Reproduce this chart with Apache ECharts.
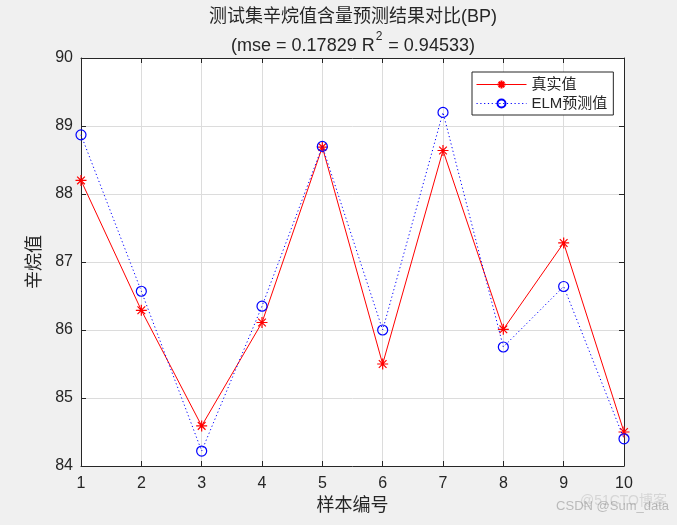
<!DOCTYPE html>
<html>
<head>
<meta charset="utf-8">
<script src="https://cdn.jsdelivr.net/npm/echarts@6/dist/echarts.min.js"></script>
<style>
html,body{margin:0;padding:0;background:#f0f0f0;}
#c{width:677px;height:525px;}
</style>
</head>
<body>
<div id="c"></div>
<script>
const samples = [1,2,3,4,5,6,7,8,9,10];
const trueValues = [88.20, 86.29, 84.59, 86.11, 88.69, 85.50, 88.64, 86.01, 87.28, 84.50];
const predValues = [88.87, 86.57, 84.22, 86.35, 88.70, 86.00, 89.20, 85.75, 86.64, 84.40];
const yTicks = [84, 85, 86, 87, 88, 89, 90];
const xTicks = samples;
const titleLine1 = '测试集辛烷值含量预测结果对比(BP)';
const mseText = '0.17829';
const r2Text = '0.94533';

const FONT = '"Liberation Sans", Arial, "Noto Sans CJK SC", sans-serif';
const AX = '#262626';
const asterisk = 'path://M0,-10L0,10M-10,0L10,0M-7,-7L7,7M-7,7L7,-7';

const chart = echarts.init(document.getElementById('c'), null, {renderer: 'canvas'});
const axisCommon = {
  type: 'value',
  axisLine: {show: true, lineStyle: {color: AX, width: 1}},
  axisTick: {show: true, inside: true, length: 5, lineStyle: {color: AX, width: 1}},
  splitLine: {show: false},
  axisLabel: {show: false}
};
chart.setOption({
  backgroundColor: '#f0f0f0',
  animation: false,
  grid: {left: 81, right: 53, top: 58, bottom: 59, show: true, backgroundColor: '#ffffff', borderWidth: 0},
  legend: {
    left: 472, top: 72, orient: 'vertical',
    itemWidth: 50, itemHeight: 10, itemGap: 4,
    padding: [5, 6, 4, 4],
    backgroundColor: '#ffffff', borderColor: AX, borderWidth: 1, borderRadius: 0,
    lineStyle: {width: 1},
    textStyle: {fontFamily: FONT, fontSize: 15, color: AX},
    data: ['真实值', 'ELM预测值']
  },
  xAxis: [
    Object.assign({}, axisCommon, {
      min: 1, max: 10, interval: 1,
      name: '样本编号', nameLocation: 'middle', nameGap: 24,
      nameTextStyle: {fontFamily: FONT, fontSize: 18, color: AX},
      axisLabel: {show: true, fontFamily: FONT, fontSize: 16, color: AX, margin: 10,
        formatter: v => xTicks.includes(v) ? String(v) : ''},
      splitLine: {show: true, lineStyle: {color: '#dcdcdc', width: 1}}
    }),
    Object.assign({}, axisCommon, {min: 1, max: 10, interval: 1, position: 'top'})
  ],
  yAxis: [
    Object.assign({}, axisCommon, {
      min: 84, max: 90, interval: 1,
      name: '辛烷值', nameLocation: 'middle', nameGap: 34, nameRotate: 90,
      nameTextStyle: {fontFamily: FONT, fontSize: 18, color: AX},
      axisLabel: {show: true, fontFamily: FONT, fontSize: 16, color: AX, margin: 8,
        formatter: v => yTicks.includes(v) ? String(v) : ''},
      splitLine: {show: true, lineStyle: {color: '#dcdcdc', width: 1}}
    }),
    Object.assign({}, axisCommon, {min: 84, max: 90, interval: 1, position: 'right'})
  ],
  series: [
    {
      name: '真实值', type: 'line',
      data: samples.map((x, i) => [x, trueValues[i]]),
      symbol: asterisk, symbolSize: 11, showAllSymbol: true,
      lineStyle: {color: '#ff0000', width: 1},
      itemStyle: {color: '#ff0000', borderColor: '#ff0000', borderWidth: 1.2},
      emphasis: {disabled: true},
      z: 2
    },
    {
      name: 'ELM预测值', type: 'line',
      data: samples.map((x, i) => [x, predValues[i]]),
      symbol: 'circle', symbolSize: 10, showAllSymbol: true,
      lineStyle: {color: '#0000ff', width: 1, type: [1.2, 2.6]},
      itemStyle: {color: 'rgba(0,0,0,0)', borderColor: '#0000ff', borderWidth: 1.2},
      emphasis: {disabled: true},
      z: 3
    }
  ],
  graphic: [
    {type: 'text', x: 353, y: 17, silent: true,
     style: {text: titleLine1, fontFamily: FONT, fontSize: 18, fill: AX, align: 'center', verticalAlign: 'middle'}},
    {type: 'text', x: 353, y: 43, silent: true,
     style: {
       text: '{a|(mse = ' + mseText + ' R}{s|2}{a| = ' + r2Text + ')}',
       fontFamily: FONT, fontSize: 18, fill: AX, align: 'center', verticalAlign: 'middle',
       rich: {
         a: {fontFamily: FONT, fontSize: 18, color: AX, lineHeight: 24, verticalAlign: 'bottom'},
         s: {fontFamily: FONT, fontSize: 12, color: AX, lineHeight: 24, verticalAlign: 'top', padding: [0, 1, 0, 1]}
       }
     }},
    {type: 'text', right: 8, top: 500, silent: true,
     style: {text: 'CSDN @Sum_data', fontFamily: FONT, fontSize: 13, fill: 'rgba(120,120,120,0.45)'}},
    {type: 'text', right: 10, top: 494, silent: true,
     style: {text: '@51CTO博客', fontFamily: FONT, fontSize: 14, fill: 'rgba(120,120,120,0.22)'}}
  ]
});
</script>
</body>
</html>
